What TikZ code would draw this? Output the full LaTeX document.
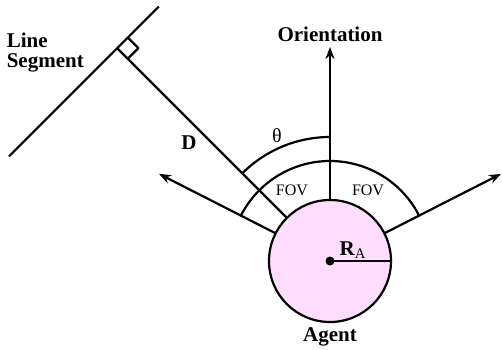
\documentclass[tikz,border=0pt]{standalone}
\usepackage{fontspec}
\setmainfont{Liberation Serif}
\usetikzlibrary{arrows.meta,calc}
\definecolor{agentpink}{RGB}{255,221,255}
\begin{document}
\begin{tikzpicture}[x=0.5pt,y=0.5pt,line join=round,>={Stealth[length=6pt,width=4.5pt]},line width=1.1pt]
	\tikzset{lbl/.style={font=\bfseries\fontsize{10.5}{10}\selectfont},
		small/.style={font=\fontsize{8}{9}\selectfont}}
	\useasboundingbox (-330,-88) rectangle (172,261);
	% agent
	\draw[fill=agentpink] (0,0) coordinate (A) circle (61);
	\fill (A) circle (4.5);
	\draw (A) -- (0:61) coordinate (R);
	\node (ra) at (23,11) {\fontsize{10.5}{12}\selectfont\textbf{R}\textsubscript{A}};
	\node[lbl] (agent) at (0,-76) {Agent};
	% orientation
	\draw[->] (90:61) -- (90:214) coordinate (O);
	\node[lbl] (orient) at (0,227) {Orientation};
	% distance to the line segment
	\draw (135:61) -- (135:301) coordinate (F);
	\draw ($(F)+(45:-153)$) -- ($(F)+(45:59)$);
	\draw ($(F)+(-45:15)$) -- ++(45:15) -- ++(135:15);
	\node[lbl] (d) at (-141,118) {D};
	\node[lbl,align=left,anchor=west] (seg) at (-331,208) {Line\\Segment};
	% field of view
	\foreach \a in {27,153}
	\draw[->] (\a:61) -- (\a:192);
	\draw (27:100) arc (27:153:100);
	\draw (90:124) arc (90:135:124);
	\node (theta) at (113:136) {θ};
	\node[small] (fovl) at (-38,71) {FOV};
	\node[small] (fovr) at (38,71) {FOV};
\end{tikzpicture}
\end{document}
